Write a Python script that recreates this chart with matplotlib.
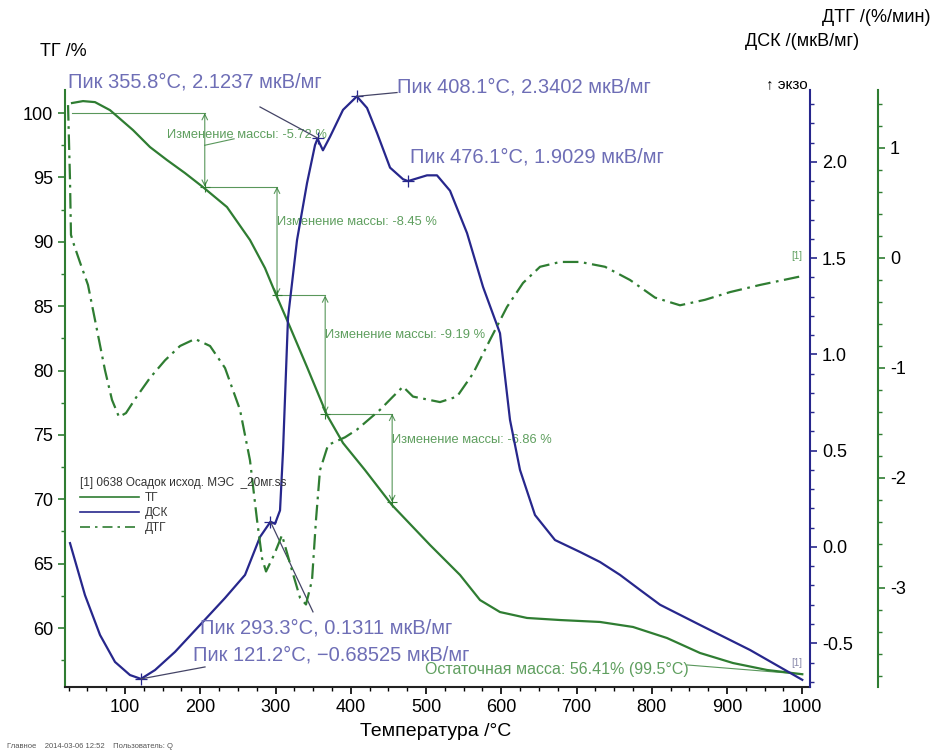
import matplotlib
matplotlib.use('Agg')
import matplotlib.pyplot as plt
from matplotlib.ticker import MultipleLocator
from matplotlib.lines import Line2D

# ТГ, %
tg_t = [29.6, 44.2, 60.1, 80.0, 110.6, 133.2, 155.8, 179.7, 203.6, 235.5, 266.1, 286.0, 302.0,
        319.3, 341.9, 368.4, 389.7, 418.9, 454.8, 505.3, 545.2, 571.8, 598.3, 634.2, 678.1,
        731.2, 775.1, 820.3, 864.1, 907.9, 953.1, 1000.0]
tg_val = [100.78, 100.93, 100.85, 100.23, 98.68, 97.36, 96.35, 95.34, 94.25, 92.70, 90.14, 87.96,
          85.71, 83.38, 80.27, 76.54, 74.37, 72.27, 69.55, 66.45, 64.12, 62.17, 61.24, 60.78,
          60.62, 60.47, 60.08, 59.22, 58.06, 57.28, 56.74, 56.41]

# ДСК, мкВ/мг
dsc_t = [26.9, 46.8, 66.8, 86.7, 106.6, 121.2, 139.9, 166.4, 199.7, 232.9, 259.5, 279.4, 293.3,
         299.3, 306.0, 310.0, 316.6, 328.6, 341.9, 352.5, 355.8, 363.0, 372.4, 389.7, 408.1,
         421.6, 434.9, 452.2, 469.4, 476.1, 501.3, 514.6, 531.9, 554.5, 575.8, 598.3, 611.6,
         624.9, 644.8, 671.4, 704.7, 731.2, 757.8, 784.4, 811.0, 864.1, 930.6, 1000.0]
dsc_val = [0.02, -0.25, -0.457, -0.597, -0.665, -0.685, -0.639, -0.545, -0.405, -0.265, -0.145,
           0.052, 0.131, 0.12, 0.19, 0.50, 1.19, 1.594, 1.89, 2.087, 2.12, 2.06, 2.13, 2.27, 2.34,
           2.28, 2.15, 1.97, 1.91, 1.90, 1.93, 1.93, 1.85, 1.63, 1.35, 1.11, 0.66, 0.40, 0.166,
           0.036, -0.026, -0.078, -0.145, -0.223, -0.30, -0.405, -0.535, -0.69]

# ДТГ, %/мин
dtg_t = [24.3, 26.9, 28.2, 32.2, 40.2, 50.8, 61.5, 73.4, 82.7, 92.0, 101.3, 114.6, 133.2, 153.2,
         173.1, 193.0, 213.0, 232.9, 252.8, 266.1, 275.4, 282.1, 287.4, 298.0, 308.6, 321.9,
         332.6, 340.5, 348.5, 353.8, 359.1, 369.8, 392.4, 408.3, 438.9, 456.1, 469.4, 482.7,
         518.6, 541.2, 562.5, 585.0, 607.6, 628.9, 651.5, 678.1, 704.7, 737.9, 771.1, 804.3,
         837.5, 870.8, 904.0, 943.9, 1000.0]
dtg_val = [1.39, 0.71, 0.21, 0.12, -0.04, -0.245, -0.61, -1.02, -1.29, -1.445, -1.41, -1.27,
           -1.09, -0.93, -0.80, -0.736, -0.80, -1.00, -1.38, -1.84, -2.38, -2.73, -2.85, -2.70,
           -2.52, -2.84, -3.09, -3.15, -2.93, -2.38, -1.93, -1.70, -1.63, -1.56, -1.38, -1.26,
           -1.17, -1.26, -1.31, -1.26, -1.05, -0.745, -0.445, -0.227, -0.08, -0.036, -0.036,
           -0.08, -0.20, -0.36, -0.43, -0.38, -0.31, -0.245, -0.164]

# ступени потери массы
step_levels = [100.0, 94.28, 85.83, 76.64, 69.78]
step_temps = [206, 302, 366, 455]
step_changes = ['-5.72', '-8.45', '-9.19', '-6.86']
step_start = 30

# пики ДСК
peak_t = [355.8, 408.1, 476.1, 293.3, 121.2]
peak_dsc = [2.1237, 2.3402, 1.9029, 0.1311, -0.68525]
peak_txt = ['2.1237', '2.3402', '1.9029', '0.1311', '\u22120.68525']

residual_mass = 56.41
residual_t = 99.5

GREEN = '#2f7d32'
GREEN_TXT = '#5f9f5f'
BLUE = '#27278c'
BLUE_TXT = '#6e6eb6'

plt.rcParams['font.family'] = ['Liberation Sans', 'DejaVu Sans']

fig = plt.figure(figsize=(9.33, 7.54), dpi=100)
ax = fig.add_axes([0.0697, 0.0889, 0.7985, 0.7917])
ax2 = ax.twinx()
ax3 = ax.twinx()
ax3.spines['right'].set_position(('outward', 49))

ax.plot(tg_t, tg_val, color=GREEN, lw=1.6, zorder=3)
ax2.plot(dsc_t, dsc_val, color=BLUE, lw=1.6, zorder=3)
ax3.plot(dtg_t, dtg_val, color=GREEN, lw=1.6, linestyle=(0, (7, 2.5, 1.2, 2.5)), zorder=3)

ax.set_xlim(20.3, 1010.3)
ax.set_ylim(55.42, 101.79)
ax2.set_ylim(-0.727, 2.373)
ax3.set_ylim(-3.9, 1.527)

for a in (ax, ax2, ax3):
    a.spines['top'].set_visible(False)
ax.spines['left'].set_color(GREEN)
ax.spines['left'].set_linewidth(1.5)
ax.spines['bottom'].set_linewidth(1.5)
ax.spines['bottom'].set_color('#222222')
ax.spines['right'].set_visible(False)
ax2.spines['left'].set_visible(False)
ax2.spines['bottom'].set_visible(False)
ax2.spines['right'].set_color(BLUE)
ax2.spines['right'].set_linewidth(1.5)
ax3.spines['left'].set_visible(False)
ax3.spines['bottom'].set_visible(False)
ax3.spines['right'].set_color(GREEN)
ax3.spines['right'].set_linewidth(1.5)

ax.xaxis.set_major_locator(MultipleLocator(100))
ax.xaxis.set_minor_locator(MultipleLocator(25))
ax.yaxis.set_major_locator(MultipleLocator(5))
ax.yaxis.set_minor_locator(MultipleLocator(2.5))
ax2.yaxis.set_major_locator(MultipleLocator(0.5))
ax2.yaxis.set_minor_locator(MultipleLocator(0.1))
ax3.yaxis.set_major_locator(MultipleLocator(1))
ax3.yaxis.set_minor_locator(MultipleLocator(0.2))
ax2.yaxis.set_major_formatter(lambda v, p: f'{v:.1f}')
ax3.yaxis.set_major_formatter(lambda v, p: f'{v:.0f}')

ax.tick_params(axis='both', which='major', labelsize=13, length=5, width=1.2, direction='out')
ax.tick_params(axis='both', which='minor', length=3, width=1, direction='out')
ax.tick_params(axis='y', which='both', color=GREEN)
ax2.tick_params(which='major', labelsize=13, length=5, width=1.2, color=BLUE)
ax2.tick_params(which='minor', length=3, width=1, color=BLUE)
ax3.tick_params(which='major', labelsize=13, length=5, width=1.2, color=GREEN)
ax3.tick_params(which='minor', length=3, width=1, color=GREEN)

# ступени изменения массы
hx = [step_start] + step_temps
for i, t in enumerate(step_temps):
    ax.plot([hx[i], t], [step_levels[i], step_levels[i]], color=GREEN, lw=0.8, alpha=0.8)
    ax.annotate('', xy=(t, step_levels[i + 1]), xytext=(t, step_levels[i]),
                arrowprops=dict(arrowstyle='<->', color=GREEN, lw=0.8, alpha=0.8,
                                shrinkA=0, shrinkB=0))
    ax.plot([t], [step_levels[i + 1]], marker='+', color=GREEN, ms=7, mew=0.8)

step_label_pos = [(155.8, 98.3), (302, 91.53), (366, 82.76), (455, 74.6)]
for (x, y), ch in zip(step_label_pos, step_changes):
    ax.text(x, y, f'Изменение массы: {ch} %', color=GREEN_TXT, fontsize=9.3,
            ha='left', va='center')
ax.plot([step_temps[0], 245], [97.5, 98.0], color=GREEN, lw=0.8, alpha=0.8)

# подписи пиков
peak_label_pos = [(24.3, 2.415), (461.5, 2.388), (478.7, 2.025), (199.7, -0.42), (190.4, -0.56)]
peak_leader_end = [(279.4, 2.285), (461.5, 2.36), None, (349.8, -0.337), (206.3, -0.623)]
for t, v, s, (lx, ly), le in zip(peak_t, peak_dsc, peak_txt, peak_label_pos, peak_leader_end):
    ax2.plot([t], [v], marker='+', color=BLUE, ms=9, mew=0.9, zorder=4)
    if le is not None:
        ax2.plot([t, le[0]], [v, le[1]], color='#444466', lw=0.9, clip_on=False, zorder=4)
    ax2.text(lx, ly, f'Пик {t:.1f}°C, {s} мкВ/мг', color=BLUE_TXT, fontsize=14.5,
             ha='left', va='center', clip_on=False, zorder=5)

# остаточная масса
ax.plot([1000, 846.9], [residual_mass, 57.13], color=GREEN, lw=0.8, alpha=0.8)
ax.text(498.7, 56.74, f'Остаточная масса: {residual_mass:.2f}% ({residual_t}°C)',
        color=GREEN_TXT, fontsize=11.5, ha='left', va='center')
ax2.text(993, -0.60, '[1]', color='#8888aa', fontsize=7, ha='center', va='center')
ax3.text(993, 0.02, '[1]', color=GREEN_TXT, fontsize=7, ha='center', va='center')

# легенда
handles = [Line2D([], [], color=GREEN, lw=1.2),
           Line2D([], [], color=BLUE, lw=1.2),
           Line2D([], [], color=GREEN, lw=1.2, linestyle=(0, (6, 3, 1.5, 3)))]
leg = fig.legend(handles, ['ТГ', 'ДСК', 'ДТГ'], title='[1] 0638 Осадок исход. МЭС  _20мг.ss',
                 loc='upper left', bbox_to_anchor=(80 / 933, 1 - 477 / 754),
                 frameon=False, fontsize=8.5, title_fontsize=8.5, alignment='left',
                 handlelength=5.0, handletextpad=0.5, labelspacing=0.25, borderpad=0,
                 borderaxespad=0)
for txt in leg.get_texts() + [leg.get_title()]:
    txt.set_color('#333333')

# подписи осей
fig.text(40 / 933, 1 - 52 / 754, 'ТГ /%', fontsize=13, ha='left', va='center')
fig.text(436 / 933, 1 - 732 / 754, 'Температура /°C', fontsize=14, ha='center', va='center')
fig.text(930 / 933, 1 - 18 / 754, 'ДТГ /(%/мин)', fontsize=13, ha='right', va='center')
fig.text(745 / 933, 1 - 42 / 754, 'ДСК /(мкВ/мг)', fontsize=13, ha='left', va='center')
fig.text(808 / 933, 1 - 84 / 754, '↑ экзо', fontsize=11, ha='right', va='center')
fig.text(7 / 933, 1 - 747 / 754, 'Главное    2014-03-06 12:52    Пользователь: Q',
         fontsize=5.5, color='#555555', ha='left', va='center')

fig.savefig('out.png', dpi=100)
